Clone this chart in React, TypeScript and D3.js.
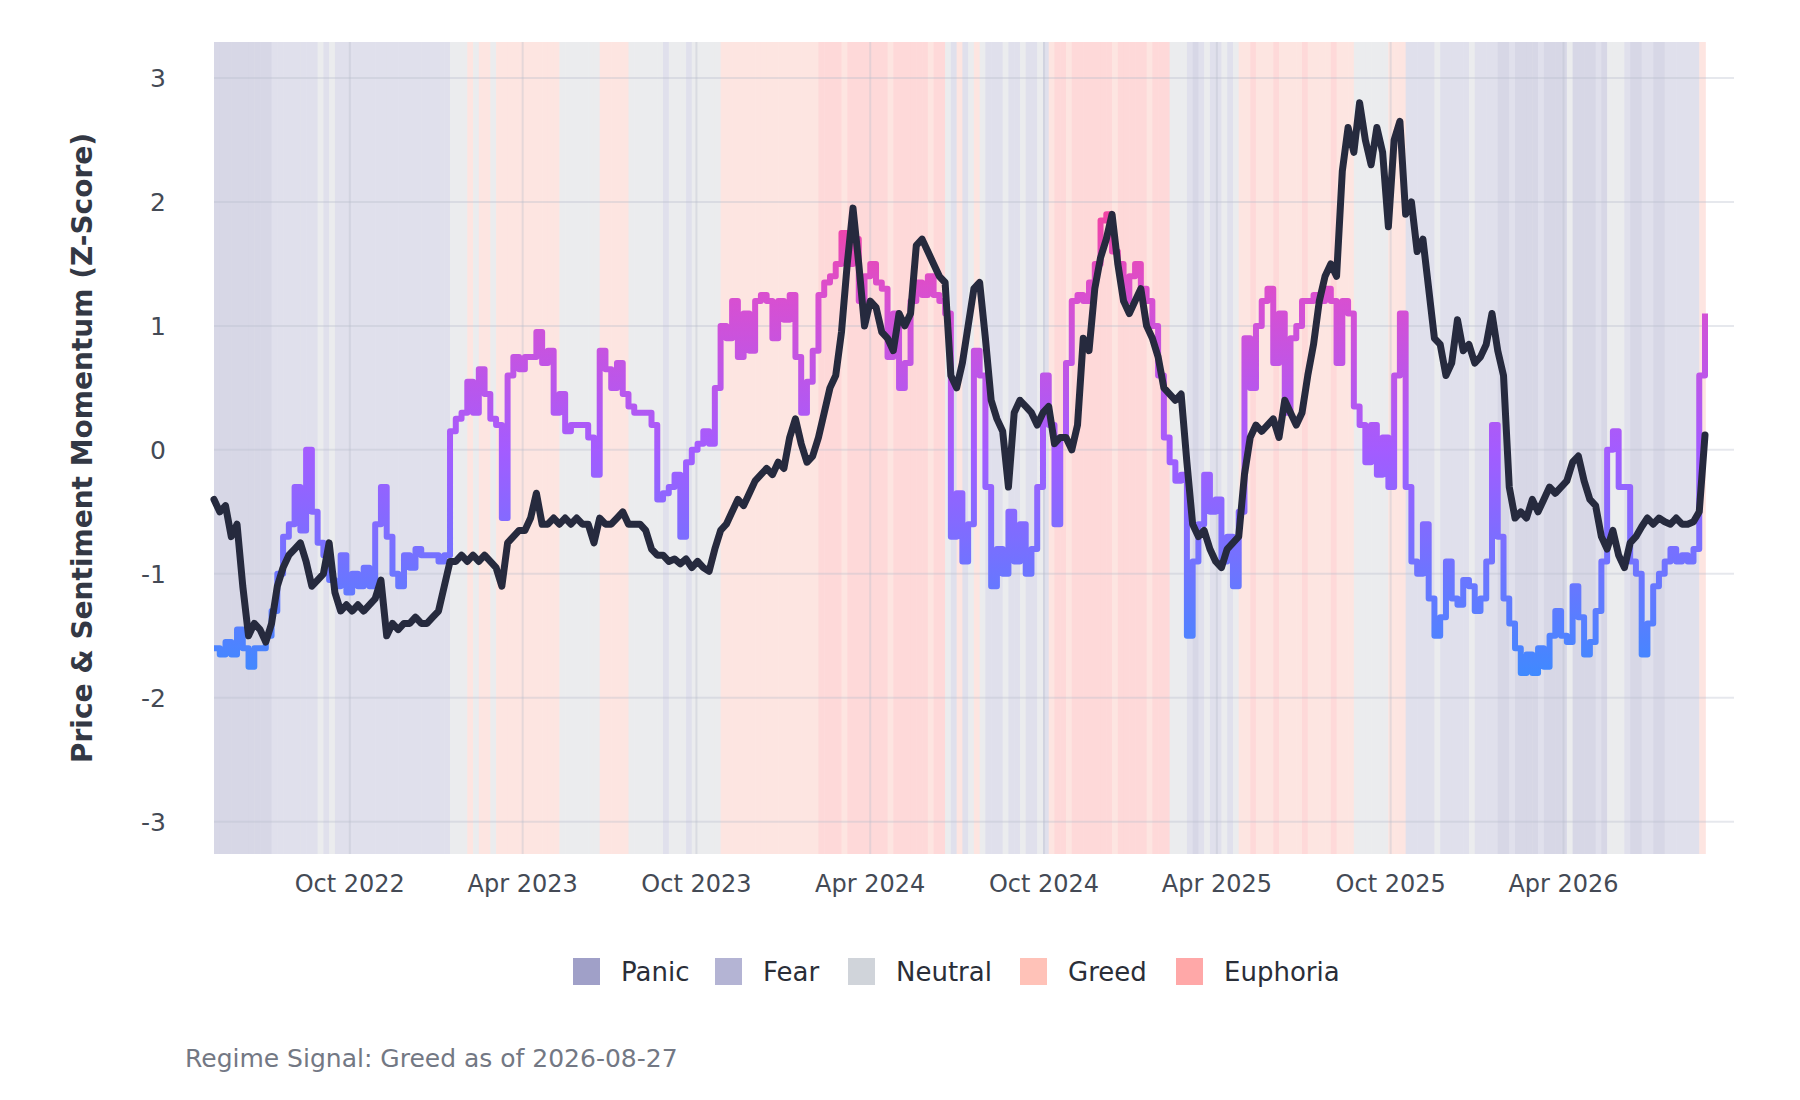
import React from 'react';
import * as d3 from 'd3';

const START = new Date(2022, 4, 11);
const END = new Date(2026, 7, 28);

// weekly-ish samples (260 evenly spaced points)
const priceMomentum = [
  -0.4, -0.5, -0.45, -0.7, -0.6, -1.1, -1.5, -1.4, -1.45, -1.55,
  -1.4, -1.1, -0.95, -0.85, -0.8, -0.75, -0.9, -1.1, -1.05, -1.0,
  -0.75, -1.15, -1.3, -1.25, -1.3, -1.25, -1.3, -1.25, -1.2, -1.05,
  -1.5, -1.4, -1.45, -1.4, -1.4, -1.35, -1.4, -1.4, -1.35, -1.3,
  -1.1, -0.9, -0.9, -0.85, -0.9, -0.85, -0.9, -0.85, -0.9, -0.95,
  -1.1, -0.75, -0.7, -0.65, -0.65, -0.55, -0.35, -0.6, -0.6, -0.55,
  -0.6, -0.55, -0.6, -0.55, -0.6, -0.6, -0.75, -0.55, -0.6, -0.6,
  -0.55, -0.5, -0.6, -0.6, -0.6, -0.65, -0.8, -0.85, -0.85, -0.9,
  -0.88, -0.92, -0.88, -0.95, -0.9, -0.95, -0.98, -0.8, -0.65, -0.6,
  -0.5, -0.4, -0.45, -0.35, -0.25, -0.2, -0.15, -0.2, -0.1, -0.15,
  0.1, 0.25, 0.05, -0.1, -0.05, 0.1, 0.3, 0.5, 0.6, 0.95,
  1.5, 1.95, 1.5, 1.0, 1.2, 1.15, 0.95, 0.9, 0.8, 1.1,
  1.0, 1.1, 1.65, 1.7, 1.6, 1.5, 1.4, 1.35, 0.6, 0.5,
  0.7, 1.0, 1.3, 1.35, 0.9, 0.4, 0.25, 0.15, -0.3, 0.3,
  0.4, 0.35, 0.3, 0.2, 0.3, 0.35, 0.05, 0.1, 0.1, 0.0,
  0.2, 0.9, 0.8, 1.3, 1.55, 1.7, 1.9, 1.5, 1.2, 1.1,
  1.2, 1.3, 1.0, 0.9, 0.75, 0.5, 0.45, 0.4, 0.45, -0.1,
  -0.6, -0.7, -0.65, -0.8, -0.9, -0.95, -0.8, -0.75, -0.7, -0.2,
  0.1, 0.2, 0.15, 0.2, 0.25, 0.1, 0.4, 0.3, 0.2, 0.3,
  0.6, 0.85, 1.2, 1.4, 1.5, 1.4, 2.25, 2.6, 2.4, 2.8,
  2.5, 2.3, 2.6, 2.4, 1.8, 2.5, 2.65, 1.9, 2.0, 1.6,
  1.7, 1.3, 0.9, 0.85, 0.6, 0.7, 1.05, 0.8, 0.85, 0.7,
  0.75, 0.85, 1.1, 0.8, 0.6, -0.3, -0.55, -0.5, -0.55, -0.4,
  -0.5, -0.4, -0.3, -0.35, -0.3, -0.25, -0.1, -0.05, -0.25, -0.4,
  -0.45, -0.7, -0.8, -0.65, -0.85, -0.95, -0.75, -0.7, -0.62, -0.55,
  -0.6, -0.55, -0.58, -0.6, -0.55, -0.6, -0.6, -0.58, -0.5, 0.12,
];

const sentimentMomentum = [
  -1.6, -1.65, -1.55, -1.65, -1.45, -1.6, -1.75, -1.6, -1.6, -1.5,
  -1.3, -1.0, -0.7, -0.6, -0.3, -0.65, 0.0, -0.5, -0.75, -0.85,
  -1.05, -1.1, -0.85, -1.15, -1.0, -1.1, -0.95, -1.1, -0.6, -0.3,
  -0.7, -1.0, -1.1, -0.85, -0.95, -0.8, -0.85, -0.85, -0.85, -0.9,
  -0.85, 0.15, 0.25, 0.3, 0.55, 0.3, 0.65, 0.45, 0.25, 0.2,
  -0.55, 0.6, 0.75, 0.65, 0.75, 0.75, 0.95, 0.7, 0.8, 0.3,
  0.45, 0.15, 0.2, 0.2, 0.2, 0.1, -0.2, 0.8, 0.65, 0.5,
  0.7, 0.45, 0.35, 0.3, 0.3, 0.3, 0.2, -0.4, -0.35, -0.3,
  -0.2, -0.7, -0.1, 0.0, 0.05, 0.15, 0.05, 0.5, 1.0, 0.9,
  1.2, 0.75, 1.1, 0.8, 1.2, 1.25, 1.2, 0.9, 1.2, 1.05,
  1.25, 0.75, 0.3, 0.55, 0.8, 1.25, 1.35, 1.4, 1.5, 1.75,
  1.5, 1.7, 1.2, 1.4, 1.5, 1.35, 1.3, 0.75, 1.1, 0.5,
  0.7, 1.2, 1.35, 1.25, 1.4, 1.25, 1.2, 1.1, -0.7, -0.35,
  -0.9, -0.6, 0.8, 0.6, -0.3, -1.1, -0.8, -1.0, -0.5, -0.9,
  -0.6, -1.0, -0.8, -0.3, 0.6, 0.2, -0.6, 0.1, 0.7, 1.2,
  1.25, 1.2, 1.35, 1.5, 1.85, 1.9, 1.6, 1.5, 1.2, 1.4,
  1.5, 1.3, 1.2, 1.0, 0.6, 0.1, -0.1, -0.25, -0.2, -1.5,
  -0.9, -0.6, -0.2, -0.5, -0.4, -0.9, -0.7, -1.1, -0.5, 0.9,
  0.5, 1.0, 1.2, 1.3, 0.7, 1.1, 0.3, 0.9, 1.0, 1.2,
  1.2, 1.25, 1.2, 1.3, 1.2, 0.7, 1.2, 1.1, 0.35, 0.2,
  -0.1, 0.2, -0.2, 0.1, -0.3, 0.6, 1.1, -0.3, -0.9, -1.0,
  -0.6, -1.2, -1.5, -1.35, -0.9, -1.2, -1.25, -1.05, -1.1, -1.3,
  -1.2, -0.9, 0.2, -0.7, -1.2, -1.4, -1.6, -1.8, -1.65, -1.8,
  -1.6, -1.75, -1.5, -1.3, -1.5, -1.55, -1.1, -1.35, -1.65, -1.55,
  -1.3, -0.9, 0.0, 0.15, -0.3, -0.3, -0.9, -1.0, -1.65, -1.4,
  -1.1, -1.0, -0.9, -0.8, -0.9, -0.85, -0.9, -0.8, 0.6, 1.1,
];

// regime per sample: P=Panic F=Fear N=Neutral G=Greed E=Euphoria
const regimeCodes =
  'PPPPPPPPPP' +
  'FFFFFFFFNFNFFFFFFFFFFFFFFFFFFFF' +
  'NNNGNGGNGGGGGGGGGGGNNNNNNN' +
  'GGGGG' +
  'NNNNNNFNNNFNNNNN' +
  'GGGGGGGGGGGGGGGGG' +
  'EEEEGEEEEEEEGEEEEEEGEE' +
  'NFGFNGNF' +
  'FFNFFNFFNFG' +
  'EEGEEEEEEEGEEEEEGEEE' +
  'NNN' +
  'FPFNFFNFN' +
  'GGEGGGEGGGGEGGGGEGGG' +
  'NNNNNN' +
  'GGG' +
  'FFFFFNFFFFFNFFFF' +
  'PPFPPPPFPPPPNPPPPFP' +
  'NNN' +
  'FPPFFPPFFFFFF' +
  'GG';

const regimeNames = ['Panic', 'Fear', 'Neutral', 'Greed', 'Euphoria'];
const regimeKeys = ['P', 'F', 'N', 'G', 'E'];
const regimeSwatch = ['#a0a0c8', '#b4b4d4', '#d0d4da', '#ffc2b8', '#ffa8a8'];
const regimeBand = ['#d7d7e6', '#e0e0ec', '#ebecee', '#fde5e1', '#fed9d9'];

const xTickDates = [
  new Date(2022, 9, 1), new Date(2023, 3, 1), new Date(2023, 9, 1), new Date(2024, 3, 1),
  new Date(2024, 9, 1), new Date(2025, 3, 1), new Date(2025, 9, 1), new Date(2026, 3, 1),
];
const yTicks = [-3, -2, -1, 0, 1, 2, 3];

const W = 1800;
const H = 1100;
const left = 214;
const dataRight = 1705;
const gridRight = 1734;
const top = 42;
const bottom = 854;
const FONT = 'DejaVu Sans, sans-serif';

export default function App() {
  const n = priceMomentum.length;
  const step = (END.getTime() - START.getTime()) / (n - 1);
  const dates = priceMomentum.map((_, i) => new Date(START.getTime() + i * step));

  const x = d3.scaleTime().domain([START, END]).range([left, dataRight]);
  const y = d3.scaleLinear().domain([-3.26, 3.29]).range([bottom, top]);

  const priceLine = d3.line<number>()
    .x((_, i) => x(dates[i]))
    .y((d) => y(d));
  const sentLine = d3.line<number>()
    .x((_, i) => x(dates[i]))
    .y((d) => y(d))
    .curve(d3.curveStepAfter);

  const bands = regimeCodes.split('').map((c, i) => {
    const k = regimeKeys.indexOf(c);
    const x0 = x(dates[i]);
    const x1 = i < n - 1 ? x(dates[i + 1]) : dataRight;
    return { x0, x1, fill: regimeBand[k] };
  });

  const legendX = [573, 715, 848, 1020, 1176];
  const fmt = d3.timeFormat('%b %Y');

  return (
    <svg width={W} height={H} style={{ position: 'absolute', left: 0, top: 0 }} fontFamily={FONT}>
      <defs>
        <linearGradient id="sentGrad" gradientUnits="userSpaceOnUse" x1={0} x2={0} y1={y(-1.9)} y2={y(2.3)}>
          <stop offset="0%" stopColor="#3b8bff" />
          <stop offset="45%" stopColor="#a35cff" />
          <stop offset="75%" stopColor="#d94fd0" />
          <stop offset="100%" stopColor="#ff3d8a" />
        </linearGradient>
      </defs>
      <rect width={W} height={H} fill="#fff" />
      {bands.map((b, i) => (
        <rect key={i} x={b.x0} y={top} width={b.x1 - b.x0 + 0.6} height={bottom - top} fill={b.fill} />
      ))}
      {yTicks.map((t) => (
        <g key={t}>
          <line x1={left} x2={gridRight} y1={y(t)} y2={y(t)} stroke="#b8bccb" strokeOpacity={0.35} strokeWidth={2} />
          <text x={166} y={y(t)} dy="0.35em" textAnchor="end" fontSize={25} fill="#444a55">{t}</text>
        </g>
      ))}
      {xTickDates.map((d) => (
        <g key={d.getTime()}>
          <line x1={x(d)} x2={x(d)} y1={top} y2={bottom} stroke="#b8bccb" strokeOpacity={0.35} strokeWidth={2} />
          <text x={x(d)} y={884} dy="0.35em" textAnchor="middle" fontSize={24} fill="#444a55">{fmt(d)}</text>
        </g>
      ))}
      <path d={sentLine(sentimentMomentum) || ''} fill="none" stroke="url(#sentGrad)" strokeWidth={6} strokeLinejoin="round" />
      <path d={priceLine(priceMomentum) || ''} fill="none" stroke="#262a3e" strokeWidth={7} strokeLinejoin="round" strokeLinecap="round" />
      <text transform={`translate(82,${(top + bottom) / 2}) rotate(-90)`} textAnchor="middle" dy="0.35em" fontSize={28} fontWeight="bold" fill="#333844">
        Price &amp; Sentiment Momentum (Z-Score)
      </text>
      {regimeNames.map((name, i) => (
        <g key={name}>
          <rect x={legendX[i]} y={958} width={27} height={27} fill={regimeSwatch[i]} />
          <text x={legendX[i] + 48} y={972} dy="0.35em" fontSize={26} fill="#2a2e38">{name}</text>
        </g>
      ))}
      <text x={185} y={1058} dy="0.35em" fontSize={25} fill="#737884">Regime Signal: Greed as of 2026-08-27</text>
    </svg>
  );
}
